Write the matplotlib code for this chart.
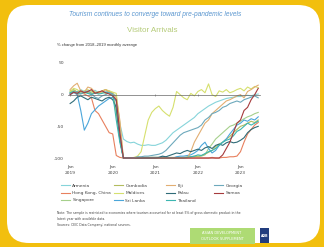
import matplotlib
matplotlib.use("Agg")
import matplotlib.pyplot as plt
from matplotlib.patches import FancyBboxPatch, Rectangle
import numpy as np

# ---------------- data ----------------
months = list(range(54))  # Jan 2019 .. Jun 2023
tick_months = [0, 12, 24, 36, 48]
tick_labels = ["Jan\n2019", "Jan\n2020", "Jan\n2021", "Jan\n2022", "Jan\n2023"]
y_ticks = [50, 0, -50, -100]

countries = ["Armenia", "Hong Kong, China", "Singapore",
             "Cambodia", "Maldives", "Sri Lanka",
             "Fiji", "Palau", "Thailand",
             "Georgia", "Samoa"]
colors = ["#86D4DA", "#E8805E", "#A6D08C",
          "#B3BC5E", "#D6E06E", "#4BA6DA",
          "#E2AE72", "#2F6C78", "#3DB6B1",
          "#6DA9BC", "#A63A3C"]

H = -100
armenia = [3, 6, 4, 8, 5, 2, 4, 7, 3, 5, 4, 6,
           2, -2, -45, -70, -74, -76, -75, -78, -80, -80, -79, -80,
           -80, -78, -76, -72, -66, -60, -56, -52, -48, -44, -40, -36,
           -30, -26, -22, -18, -15, -12, -10, -8, -6, -5, -4, -3,
           -3, -2, -1, -2, 0, 1]
hong_kong = [2, 4, 0, 3, 1, -2, -5, -25, -30, -40, -50, -60,
             -62, -96, -99, H, H, H, H, H, H, H, H, H,
             H, H, H, H, H, H, H, H, H, H, H, H,
             H, H, H, H, -99, H, H, -99, -99, -98, -98, -97,
             -90, -75, -62, -55, -48, -44]
singapore = [4, 6, 3, 5, 2, 4, 6, 3, 5, 4, 2, 3,
             -2, -30, -70, H, H, H, H, -99, -99, -99, -99, -99,
             -99, -99, -99, -99, -99, -99, -99, -99, -99, -98, -98, -97,
             -98, -97, -95, -85, -78, -70, -65, -60, -55, -50, -48, -45,
             -42, -38, -35, -33, -30, -28]
cambodia = [6, 8, 4, 2, 5, 3, 1, 4, 2, 6, 8, 5,
            2, -25, -70, -99, H, H, H, H, H, -99, -99, -99,
            -99, -99, H, H, H, H, -99, -99, -99, -99, -98, -98,
            -97, -96, -94, -91, -88, -82, -78, -75, -70, -66, -60, -55,
            -50, -48, -45, -42, -44, -40]
maldives = [5, 10, 8, 3, 6, 8, 4, 2, 3, 5, 8, 6,
            4, 2, -45, H, H, H, -99, -97, -90, -65, -40, -28,
            -22, -18, -25, -30, -34, -20, 5, 0, -5, -8, 2, -2,
            5, 8, 3, 17, 0, -3, 6, 4, 8, 3, 5, 8,
            10, 6, 12, 9, 13, 11]
sri_lanka = [2, 4, 0, -25, -56, -45, -30, -24, -18, -14, -10, -6,
             -4, -10, -70, H, H, H, H, H, H, H, H, -99,
             -99, -99, -98, -98, H, H, -98, -97, -97, -96, -95, -92,
             -88, -80, -75, -85, -92, -88, -80, -75, -70, -62, -55, -48,
             -45, -40, -42, -38, -40, -35]
fiji = [8, 14, 18, 6, 4, 12, 10, 4, 2, 5, 8, 4,
        2, -5, -40, H, H, H, H, H, H, H, H, H,
        H, H, H, H, H, H, H, H, H, H, -90, -75,
        -65, -55, -45, -40, -30, -25, -20, -15, -10, -8, -5, -2,
        0, -5, 5, 8, 12, 15]
palau = [-14, -10, -4, -2, -5, -8, -4, -6, -8, -10, -6, -4,
         -8, -20, -70, H, H, H, H, H, H, H, H, H,
         H, -99, -97, -98, -96, -94, -92, -93, -90, -88, -90, -88,
         -86, -88, -84, -82, -85, -80, -78, -80, -76, -74, -76, -75,
         -72, -68, -60, -55, -52, -50]
thailand = [3, 5, 2, 1, 4, 2, 0, 3, 1, 2, 4, 3,
            1, -40, -75, H, H, H, H, H, H, H, H, H,
            H, H, H, H, H, H, H, H, H, -99, -98, -97,
            -95, -96, -93, -90, -88, -85, -80, -75, -72, -70, -65, -58,
            -55, -50, -45, -48, -45, -42]
georgia = [0, 3, 5, 2, 4, 6, 2, -4, -6, -2, 0, 3,
           0, -10, -60, H, H, H, H, -98, -98, -97, -97, -96,
           -95, -94, -92, -88, -82, -76, -70, -64, -60, -58, -56, -54,
           -52, -48, -40, -36, -30, -28, -25, -20, -18, -14, -12, -10,
           -12, -8, -6, -4, -2, -5]
samoa = [0, 4, 2, 6, 3, 5, 8, 2, 4, 6, 3, 1,
         -2, -8, -60, H, H, H, H, H, H, H, H, H,
         H, H, H, H, H, H, H, H, H, H, H, H,
         H, H, H, H, H, H, H, -95, -85, -75, -60, -45,
         -40, -25, -20, -8, 0, 10]

series = [armenia, hong_kong, singapore, cambodia, maldives, sri_lanka,
          fiji, palau, thailand, georgia, samoa]

# ---------------- figure ----------------
W, Hpx = 324, 247
fig = plt.figure(figsize=(W / 100, Hpx / 100), dpi=100)
fig.patch.set_facecolor("#F2BF0E")

def fx(x):
    return x / W

def fy(y):
    return 1 - y / Hpx

bg = fig.add_axes([0, 0, 1, 1], zorder=0)
bg.set_xlim(0, W)
bg.set_ylim(Hpx, 0)
bg.axis("off")
bg.add_patch(FancyBboxPatch((7, 5), 313, 238,
                            boxstyle="round,pad=0,rounding_size=22",
                            fc="white", ec="none"))
# logos
bg.add_patch(Rectangle((190, 228), 65, 16, fc="#AEDB74", ec="none"))
bg.add_patch(Rectangle((260, 228), 9, 15, fc="#223D7E", ec="none"))
bg.text(222, 233, "ASIAN DEVELOPMENT", fontsize=2.6, color="white",
        ha="center", va="center")
bg.text(222, 238.5, "OUTLOOK SUPPLEMENT", fontsize=2.6, color="white",
        ha="center", va="center")
bg.text(264.5, 235.5, "ADB", fontsize=2.3, color="white", ha="center",
        va="center", fontweight="bold")

fig.text(fx(155), fy(14), "Tourism continues to converge toward pre-pandemic levels",
         fontsize=4.8, style="italic", color="#5A96CF", ha="center", va="center",
         family="Liberation Sans")
fig.text(fx(152), fy(31), "Visitor Arrivals", fontsize=5.8, color="#B5CB78",
         ha="center", va="center", family="Liberation Sans")
fig.text(fx(57), fy(45), "% change from 2018\u20132019 monthly average",
         fontsize=3.0, color="#333333", ha="left", va="center",
         family="Liberation Sans")

# main axes
x0, x1 = -0.6, 53.5
y0, y1 = -105, 55
ax = fig.add_axes([fx(68), fy(161.2), fx(260) - fx(68), fy(59.8) - fy(161.2)],
                  zorder=2)
ax.patch.set_alpha(0)
for s, c in zip(series, colors):
    ax.plot(months, s, color=c, lw=0.8)
ax.set_xlim(x0, x1)
ax.set_ylim(y0, y1)
for sp in ["top", "right", "left"]:
    ax.spines[sp].set_visible(False)
ax.spines["bottom"].set_position(("data", 0))
ax.spines["bottom"].set_color("#666666")
ax.spines["bottom"].set_linewidth(0.5)
ax.set_xticks(tick_months)
ax.tick_params(axis="x", length=1.5, width=0.4, color="#666666",
               direction="inout", labelbottom=False)
ax.set_yticks(y_ticks)
ax.set_yticklabels([str(v) for v in y_ticks])
ax.tick_params(axis="y", length=0, labelsize=3.2, labelcolor="#444444", pad=3)

sec = ax.secondary_xaxis("bottom")
sec.set_xticks(tick_months)
sec.set_xticklabels(tick_labels)
sec.tick_params(length=0, labelsize=3.2, labelcolor="#444444", pad=3)
sec.spines["bottom"].set_visible(False)
for t in sec.get_xticklabels():
    t.set_linespacing(1.5)

# legend: four columns placed individually
handles = ax.get_lines()
col_x = [61, 114, 166, 214]
col_items = [[0, 1, 2], [3, 4, 5], [6, 7, 8], [9, 10]]
for cx, items in zip(col_x, col_items):
    leg = fig.legend([handles[i] for i in items], [countries[i] for i in items],
                     loc="upper left", bbox_to_anchor=(fx(cx), fy(183.5)),
                     frameon=False, fontsize=3.2, handlelength=2.1,
                     handletextpad=0.45, labelspacing=0.75, borderpad=0,
                     borderaxespad=0)
    for t in leg.get_texts():
        t.set_color("#444444")

fig.text(fx(57), fy(213), "Note: The sample is restricted to economies where tourism "
         "accounted for at least 5% of gross domestic product in the",
         fontsize=2.25, color="#444444", ha="left", va="center")
fig.text(fx(57), fy(219), "latest year with available data.",
         fontsize=2.25, color="#444444", ha="left", va="center")
fig.text(fx(57), fy(225), "Sources: CEIC Data Company; national sources.",
         fontsize=2.25, color="#444444", ha="left", va="center")

fig.savefig("out.png", dpi=100, facecolor=fig.get_facecolor())
